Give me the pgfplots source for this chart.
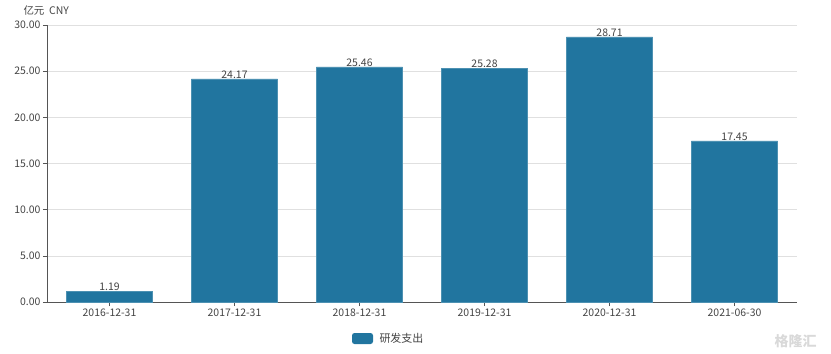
\documentclass[border=0pt]{standalone}
\usepackage{pgfplots}
\pgfplotsset{compat=1.18}
\usepackage{fontspec}
\setmainfont{Noto Sans CJK SC}
\definecolor{barc}{HTML}{21759F}
\definecolor{txt}{HTML}{444444}
\definecolor{axc}{HTML}{555555}
\definecolor{gridc}{HTML}{E0E0E0}
\begin{document}
\begin{tikzpicture}[x=1bp,y=1bp]
\path[use as bounding box] (0,0) rectangle (831,353);
\begin{axis}[
  at={(47bp,51bp)}, anchor=south west,
  scale only axis, width=750bp, height=277bp,
  xmin=-0.5, xmax=5.5, ymin=0, ymax=30,
  axis x line*=bottom, axis y line*=left,
  axis line style={axc, line width=0.8pt, -},
  xtick={0,1,2,3,4,5},
  xticklabels={2016-12-31,2017-12-31,2018-12-31,2019-12-31,2020-12-31,2021-06-30},
  ytick={0,5,10,15,20,25,30},
  yticklabel={\pgfmathprintnumber[fixed,fixed zerofill,precision=2]{\tick}},
  /pgf/number format/assume math mode=true,
  tick label style={font=\fontsize{10.5}{12}\selectfont, text=txt},
  xticklabel style={yshift=1bp},
  yticklabel style={xshift=1bp},
  tick style={axc, line width=0.6pt},
  tick align=outside, major tick length=4bp,
  ymajorgrids, grid style={gridc, line width=0.6pt},
  ybar, bar width=0.69,
  nodes near coords={\pgfmathprintnumber[fixed,fixed zerofill,precision=2]{\pgfplotspointmeta}},
  nodes near coords style={font=\fontsize{10.5}{12}\selectfont, text=txt, inner sep=0.5pt, anchor=south},
  point meta=explicit symbolic,
  clip=false,
]
\addplot[fill=barc, draw=barc!80!white, line width=0.3pt] coordinates {
(0,1.19) [1.19] (1,24.17) [24.17] (2,25.46) [25.46] (3,25.28) [25.28] (4,28.71) [28.71] (5,17.45) [17.45]};
\end{axis}
\node[anchor=west, font=\fontsize{10.5}{12}\selectfont, text=txt] at (20,342) {亿元\ \ CNY};
\fill[barc, rounded corners=2.5bp] (352,9) rectangle (373,20);
\node[anchor=west, font=\fontsize{11}{12}\selectfont, text=txt] at (376,14.5) {研发支出};
\node[anchor=east, font=\fontsize{14}{14}\selectfont\bfseries, text=gray!30] at (820,12) {格隆汇};
\end{tikzpicture}
\end{document}
